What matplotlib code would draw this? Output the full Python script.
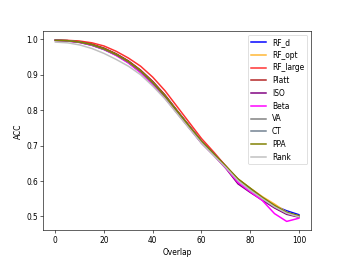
import matplotlib
matplotlib.use('Agg')

import numpy as np
import matplotlib.pyplot as plt

# Eixo x: percentual de sobreposição
overlap = [0, 5, 10, 15, 20, 25, 30, 35, 40, 45, 50, 55, 60, 65, 70, 75, 80, 85, 90, 95, 100]

# Acurácia de cada método
rf_d     = [0.997, 0.996, 0.993, 0.985, 0.974, 0.958, 0.938, 0.912, 0.880, 0.842, 0.798, 0.755, 0.712, 0.677, 0.641, 0.604, 0.577, 0.552, 0.530, 0.516, 0.505]
rf_opt   = [0.997, 0.996, 0.993, 0.985, 0.974, 0.958, 0.937, 0.911, 0.879, 0.841, 0.797, 0.754, 0.711, 0.676, 0.642, 0.606, 0.580, 0.556, 0.535, 0.512, 0.500]
rf_large = [0.998, 0.997, 0.995, 0.990, 0.981, 0.966, 0.947, 0.924, 0.893, 0.855, 0.810, 0.765, 0.720, 0.682, 0.642, 0.604, 0.576, 0.551, 0.528, 0.510, 0.500]
platt    = [0.997, 0.996, 0.993, 0.986, 0.975, 0.959, 0.939, 0.913, 0.881, 0.843, 0.799, 0.756, 0.713, 0.678, 0.641, 0.603, 0.576, 0.550, 0.526, 0.508, 0.500]
iso      = [0.997, 0.995, 0.991, 0.983, 0.971, 0.955, 0.934, 0.907, 0.874, 0.835, 0.792, 0.750, 0.707, 0.673, 0.636, 0.592, 0.568, 0.546, 0.524, 0.506, 0.498]
beta     = [0.997, 0.995, 0.991, 0.983, 0.971, 0.954, 0.933, 0.906, 0.873, 0.834, 0.792, 0.750, 0.708, 0.673, 0.637, 0.596, 0.570, 0.545, 0.508, 0.486, 0.495]
va       = [0.997, 0.996, 0.992, 0.984, 0.972, 0.956, 0.936, 0.910, 0.878, 0.840, 0.797, 0.754, 0.711, 0.676, 0.640, 0.603, 0.577, 0.552, 0.528, 0.510, 0.500]
ct       = [0.997, 0.996, 0.992, 0.984, 0.972, 0.957, 0.936, 0.910, 0.877, 0.839, 0.796, 0.754, 0.712, 0.677, 0.641, 0.605, 0.579, 0.553, 0.530, 0.512, 0.502]
ppa      = [0.997, 0.996, 0.992, 0.985, 0.973, 0.957, 0.937, 0.911, 0.878, 0.840, 0.797, 0.754, 0.712, 0.677, 0.642, 0.606, 0.580, 0.554, 0.531, 0.511, 0.502]
rank     = [0.992, 0.990, 0.984, 0.974, 0.960, 0.943, 0.924, 0.900, 0.868, 0.832, 0.790, 0.748, 0.707, 0.672, 0.638, 0.601, 0.574, 0.550, 0.527, 0.509, 0.499]

series = [rf_d, rf_opt, rf_large, platt, iso, beta, va, ct, ppa, rank]
nomes = ['RF_d', 'RF_opt', 'RF_large', 'Platt', 'ISO', 'Beta', 'VA', 'CT', 'PPA', 'Rank']
cores = ['blue', '#ffb732', '#ff3030', '#b22222', 'purple', 'magenta', 'gray', 'slategray', 'olive', 'silver']

fig = plt.figure(figsize=(6.4, 4.8), dpi=54)
ax = fig.add_subplot(111)

for valores, nome, cor in zip(series, nomes, cores):
    ax.plot(overlap, valores, color=cor, label=nome, linewidth=2)

ax.set_xlabel('Overlap')
ax.set_ylabel('ACC')
ax.legend(loc='upper right')

fig.savefig('out.png', dpi=54)
